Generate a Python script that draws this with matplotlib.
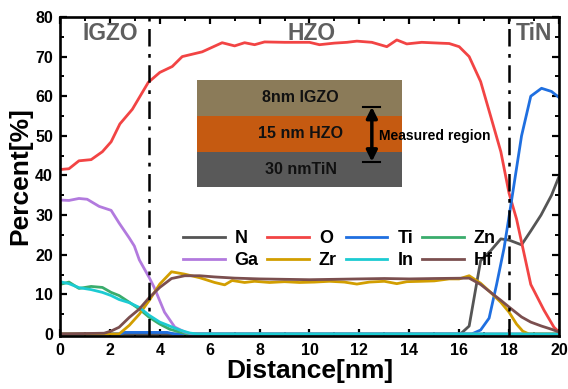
import matplotlib
matplotlib.use('Agg')
import matplotlib.pyplot as plt
from matplotlib.patches import Rectangle
from matplotlib.ticker import MultipleLocator

plt.rcParams['font.family'] = ['Liberation Sans', 'DejaVu Sans']
plt.rcParams['font.weight'] = 'bold'

# depth profiles, atomic percent vs distance (nm)
x_N = [0, 16.05, 16.4, 16.86, 17.26, 17.67, 18.0, 18.5, 18.87, 19.28, 19.7, 20]
y_N = [0, 0, 2, 18.5, 21, 24, 23.7, 22.5, 26, 30, 35, 39.7]

x_O = [0, 0.36, 0.76, 1.25, 1.7, 2.05, 2.4, 2.9, 3.54, 4.0, 4.5, 4.9, 5.7, 6.5, 7.0, 7.4,
       7.8, 8.2, 9.0, 10.0, 10.4, 11.0, 11.5, 11.9, 12.5, 13.1, 13.5, 13.9, 14.5, 15.2,
       15.6, 16.0, 16.4, 16.86, 17.26, 17.67, 18.0, 18.3, 18.87, 19.4, 19.8, 20]
y_O = [41.5, 41.7, 43.7, 44, 46, 48.5, 53, 56.7, 63.5, 66, 67.5, 70, 71.2, 73.5, 72.7, 73.5,
       73, 73.7, 73.6, 73.6, 73, 73.4, 73.6, 73.9, 73.6, 72.5, 74.2, 73.2, 73.6, 73.4,
       73.3, 72.5, 70, 63.7, 55, 46, 35.5, 29, 12.5, 6, 1.7, 0.5]

x_Ti = [0, 2.4, 2.6, 4.3, 4.6, 16.5, 16.86, 17.2, 17.5, 17.8, 18.07, 18.5, 18.87, 19.3, 19.7, 20]
y_Ti = [0, 0, 0.4, 0.4, 0, 0, 1, 4, 12.5, 21.7, 32.5, 50, 60, 62, 61.2, 59.7]

x_Zn = [0, 0.36, 0.76, 1.25, 1.7, 2.05, 2.37, 2.78, 3.18, 3.58, 4.0, 4.4, 4.8, 5.1, 20]
y_Zn = [12.5, 13.1, 11.5, 12, 11.75, 10.5, 9.7, 8, 6.3, 4.2, 2.5, 1.2, 0.5, 0, 0]

x_Ga = [0, 0.36, 0.76, 1.09, 1.57, 2.05, 2.37, 2.78, 2.98, 3.18, 3.58, 3.78, 4.19, 4.6, 5.0, 5.3, 20]
y_Ga = [33.8, 33.7, 34.2, 34, 32.2, 31.2, 28, 24.2, 22.2, 18.7, 14.2, 11.7, 5.5, 1.75, 0.5, 0, 0]

x_Zr = [0, 2.37, 2.78, 3.18, 3.58, 4.0, 4.47, 5.0, 5.6, 6.2, 6.6, 6.9, 7.4, 7.8, 8.4, 9.0,
        9.6, 10.2, 10.8, 11.4, 11.9, 12.4, 13.0, 13.5, 13.9, 14.5, 15.0, 15.6, 16.0, 16.4,
        16.86, 17.26, 17.67, 18.0, 18.3, 18.55, 18.8, 20]
y_Zr = [0, 0, 2.2, 5, 8.5, 12.6, 15.7, 15.1, 14.2, 13, 12.4, 13.5, 13, 13.3, 13, 13.2,
        13.0, 13.1, 13.3, 13.1, 12.6, 13.1, 13.3, 12.7, 13.2, 13.3, 13.4, 13.9, 13.9, 14.7,
        12.8, 10.5, 8, 5.5, 2.5, 0.7, 0, 0]

x_In = [0, 0.36, 0.76, 1.25, 1.7, 2.05, 2.37, 2.78, 3.18, 3.58, 4.0, 4.4, 4.8, 5.2, 5.5, 20]
y_In = [13.2, 12.7, 11.7, 11.2, 10.5, 9.7, 8.7, 7.9, 6.7, 4.7, 3.0, 2.0, 1.0, 0.25, 0, 0]

x_Hf = [0, 1.77, 2.05, 2.37, 2.78, 3.18, 3.58, 4.0, 4.47, 5.0, 5.6, 6.2, 7.0, 8.0, 9.0,
        10.0, 11.0, 12.0, 13.0, 14.0, 15.0, 16.4, 16.86, 17.26, 17.67, 18.0, 18.5, 18.87,
        19.3, 19.7, 20]
y_Hf = [0, 0.2, 0.75, 1.7, 4.2, 6.3, 9.2, 11.75, 14, 14.7, 14.7, 14.4, 14.1, 13.9, 13.8,
        13.7, 13.8, 13.9, 14.0, 13.9, 14.0, 14.1, 12.5, 10.5, 8.5, 6.8, 4.3, 3.0,
        2.0, 1.2, 0.5]

# layer boundaries and stack sketch
boundaries = [3.57, 18.0]
layer_names = ['IGZO', 'HZO', 'TiN']
layer_x = [2.02, 10.09, 19.0]
stack_labels = ['8nm IGZO', '15 nm HZO', '30 nmTiN']
stack_colors = ['#8b7b59', '#c55a11', '#595959']
stack_edges = [64.2, 55.0, 45.95, 37.1]

series = [
    ('N', x_N, y_N, '#555555'),
    ('O', x_O, y_O, '#f24444'),
    ('Ti', x_Ti, y_Ti, '#1f6fe0'),
    ('Zn', x_Zn, y_Zn, '#3aac6c'),
    ('Ga', x_Ga, y_Ga, '#b27ade'),
    ('Zr', x_Zr, y_Zr, '#d29e00'),
    ('In', x_In, y_In, '#1ccbd2'),
    ('Hf', x_Hf, y_Hf, '#7b4f4f'),
]

fig = plt.figure(figsize=(5.68, 3.89), dpi=100)
ax = fig.add_axes([0.1056, 0.1363, 0.8785, 0.8201])

lines = []
for name, xs, ys, c in series:
    ln, = ax.plot(xs, ys, color=c, lw=2.0, label=name)
    lines.append(ln)

for b in boundaries:
    ax.axvline(b, color='k', lw=1.8, ls=(0, (7, 3, 1.5, 3)))

for name, xl in zip(layer_names, layer_x):
    ax.text(xl, 75.8, name, ha='center', va='center', fontsize=16.5,
            fontweight='bold', color='#5f5f5f')

# stack sketch
for i in range(3):
    top = stack_edges[i]
    bot = stack_edges[i + 1]
    ax.add_patch(Rectangle((5.48, bot), 13.71 - 5.48, top - bot,
                           facecolor=stack_colors[i], edgecolor='none', zorder=3))
    ax.text(9.65, (top + bot) / 2, stack_labels[i], ha='center', va='center',
            fontsize=11.5, fontweight='bold', color='#111111', zorder=4)

ax.annotate('', xy=(12.5, 43.5), xytext=(12.5, 57.3),
            arrowprops=dict(arrowstyle='<|-|>', color='k', lw=2.5,
                            mutation_scale=16, shrinkA=0, shrinkB=0), zorder=5)
ax.plot([12.16, 12.84], [57.4, 57.4], color='k', lw=1.5, zorder=5)
ax.plot([12.16, 12.84], [43.4, 43.4], color='k', lw=1.5, zorder=5)
ax.text(12.78, 50.0, 'Measured region', ha='left', va='center', fontsize=10,
        fontweight='bold', color='k', zorder=5)

ax.set_xlim(0, 20)
ax.set_ylim(-0.5, 80)
ax.xaxis.set_major_locator(MultipleLocator(2))
ax.xaxis.set_minor_locator(MultipleLocator(1))
ax.yaxis.set_major_locator(MultipleLocator(10))
ax.yaxis.set_minor_locator(MultipleLocator(5))
ax.tick_params(which='both', direction='in', top=True, right=True, labelsize=11.5, pad=5)
ax.tick_params(which='major', length=5, width=1.6)
ax.tick_params(which='minor', length=3, width=1.4)
for lab in ax.get_xticklabels() + ax.get_yticklabels():
    lab.set_fontweight('bold')
for s in ax.spines.values():
    s.set_linewidth(1.9)

ax.set_xlabel('Distance[nm]', fontsize=19, fontweight='bold', labelpad=1)
ax.set_ylabel('Percent[%]', fontsize=19, fontweight='bold', labelpad=2)

# legend fills column-wise, so interleave the two rows
order = [0, 4, 1, 5, 2, 6, 3, 7]
ax.legend([lines[i] for i in order], [series[i][0] for i in order],
          ncol=4, loc='upper left', bbox_to_anchor=(0.2465, 0.332), frameon=False,
          handlelength=2.3, handletextpad=0.55, columnspacing=0.5,
          labelspacing=0.3, borderpad=0, borderaxespad=0,
          prop={'weight': 'bold', 'size': 13})

plt.savefig('out.png', dpi=100)
